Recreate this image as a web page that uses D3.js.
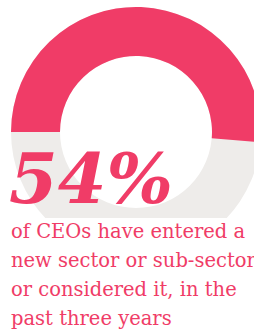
<!DOCTYPE html>
<html>
<head>
<meta charset="utf-8">
<script src="https://cdn.jsdelivr.net/npm/d3@7"></script>
<style>
  html, body { margin: 0; padding: 0; background: #fff; overflow: hidden; }
  svg { display: block; }
</style>
</head>
<body>
<div id="chart"></div>
<script>
// data
const categories = ["Entered or considered a new sector", "Did not"];
const values = [54, 46];
const headline = "54%";
const captionLines = [
  "of CEOs have entered a",
  "new sector or sub-sector,",
  "or considered it, in the",
  "past three years"
];

const width = 254, height = 331;
const pink = "#f03c67", grey = "#eeecea";

const svg = d3.select("#chart").append("svg")
  .attr("width", width)
  .attr("height", height);

// ring is hidden under the caption block
svg.append("clipPath").attr("id", "ringClip")
  .append("rect").attr("x", 0).attr("y", 0).attr("width", width).attr("height", 218);

const cx = 136, cy = 132, outerR = 125, innerR = 76;

// the original arc runs a little short of a true 54%
const angle = d3.scaleLinear()
  .domain([0, d3.sum(values)])
  .range([-Math.PI / 2, -Math.PI / 2 + 2 * Math.PI * 0.95]);

const arc = d3.arc().innerRadius(innerR).outerRadius(outerR);

const ring = svg.append("g")
  .attr("clip-path", "url(#ringClip)")
  .append("g")
  .attr("transform", `translate(${cx},${cy})`);

// grey track
ring.append("path")
  .attr("d", arc({ startAngle: 0, endAngle: 2 * Math.PI }))
  .attr("fill", grey);

// highlighted share
ring.append("path")
  .datum({ startAngle: angle(0), endAngle: angle(values[0]) })
  .attr("d", arc)
  .attr("fill", pink);

svg.append("text")
  .attr("x", 9)
  .attr("y", 203)
  .attr("font-family", "DejaVu Serif")
  .attr("font-weight", "bold")
  .attr("font-style", "italic")
  .attr("font-size", 70)
  .attr("fill", pink)
  .text(headline);

svg.append("g").selectAll("text")
  .data(captionLines)
  .join("text")
  .attr("x", 11)
  .attr("y", (d, i) => 238 + i * 29)
  .attr("font-family", "DejaVu Serif")
  .attr("font-size", 19.5)
  .attr("fill", pink)
  .text(d => d);
</script>
</body>
</html>
